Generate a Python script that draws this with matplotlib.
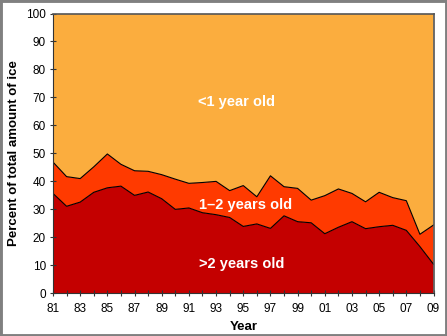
import matplotlib
matplotlib.use("Agg")
import matplotlib.pyplot as plt
from matplotlib.patches import Rectangle

years = list(range(1981, 2010))
older_than_2 = [35.7, 31.1, 32.6, 36.1, 37.7, 38.3, 35.0, 36.2, 33.8, 30.0,
                30.5, 28.8, 28.1, 27.1, 23.9, 24.8, 23.2, 27.7, 25.6, 25.2,
                21.3, 23.6, 25.6, 23.1, 23.8, 24.3, 22.5, 16.7, 10.4]
total_over_1 = [46.9, 41.7, 41.0, 45.2, 49.8, 46.1, 43.8, 43.6, 42.4, 40.8,
                39.3, 39.6, 40.0, 36.7, 38.5, 34.5, 42.0, 38.1, 37.5, 33.3,
                34.9, 37.3, 35.7, 32.7, 36.1, 34.2, 33.1, 21.1, 24.4]
one_to_two = [t - o for t, o in zip(total_over_1, older_than_2)]
under_1 = [100 - t for t in total_over_1]
xtick_labels = ["81", "83", "85", "87", "89", "91", "93", "95", "97", "99",
                "01", "03", "05", "07", "09"]

c_old = "#C40000"
c_mid = "#FF3A00"
c_young = "#FBAD3E"

plt.rcParams['font.family'] = ['Liberation Sans', 'DejaVu Sans']

fig = plt.figure(figsize=(4.47, 3.36), dpi=100)
fig.patches.append(Rectangle((0, 0), 1, 1, transform=fig.transFigure,
                             fill=False, edgecolor="#808080", linewidth=3.5, zorder=10))

ax = fig.add_axes([53/447, 1 - 293.3/336, (433.5-53)/447, (293.3-13.5)/336])
ax.stackplot(years, older_than_2, one_to_two, under_1,
             colors=[c_old, c_mid, c_young], linewidth=0)
ax.plot(years, older_than_2, color="black", linewidth=0.8)
ax.plot(years, total_over_1, color="black", linewidth=0.8)

ax.set_xlim(1981, 2009)
ax.set_ylim(0, 100)
ax.set_xticks(years, minor=True)
ax.set_xticks(list(range(1981, 2010, 2)))
ax.set_xticklabels(xtick_labels)
ax.set_yticks(range(0, 101, 10))
ax.tick_params(axis='both', which='both', labelsize=8.5, length=4, width=0.8,
               direction='inout', color='#333333')
ax.tick_params(axis='x', which='major', pad=5)
ax.tick_params(axis='y', which='major', pad=3)
for s in ['top', 'right']:
    ax.spines[s].set_color('#555555')
    ax.spines[s].set_linewidth(1.2)
for s in ['left', 'bottom']:
    ax.spines[s].set_color('#333333')
    ax.spines[s].set_linewidth(0.8)

ax.set_xlabel("Year", fontsize=9.5, fontweight='bold', labelpad=4)
ax.set_ylabel("Percent of total amount of ice", fontsize=9.5, fontweight='bold', labelpad=0)
ax.yaxis.set_label_coords(-0.088, 0.5)

ax.text(1994.5, 68.4, "<1 year old", color="white", fontsize=10.5, fontweight='bold',
        ha='center', va='center')
ax.text(1995.2, 31.4, "1–2 years old", color="white", fontsize=10.5, fontweight='bold',
        ha='center', va='center')
ax.text(1994.85, 10.6, ">2 years old", color="white", fontsize=10.5, fontweight='bold',
        ha='center', va='center')

fig.savefig("out.png", dpi=100)
